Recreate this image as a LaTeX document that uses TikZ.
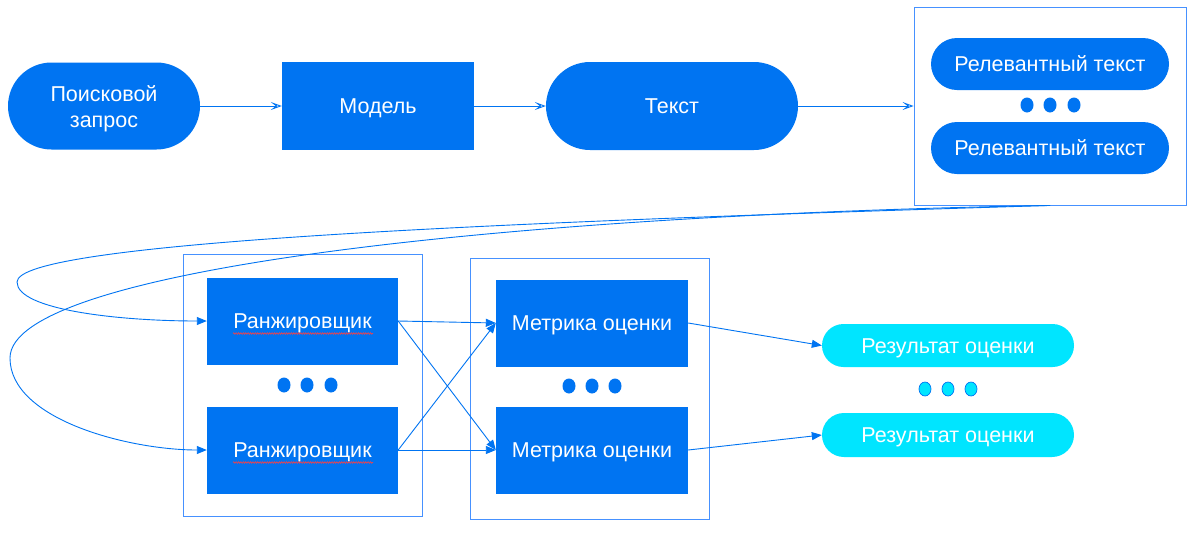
\documentclass[tikz,border=0pt]{standalone}
\usepackage{fontspec}
\setmainfont{Liberation Sans}
\usetikzlibrary{arrows.meta,decorations.pathmorphing}
\definecolor{mblue}{RGB}{0,116,242}
\definecolor{mcyan}{RGB}{0,229,255}
\definecolor{lblue}{RGB}{70,145,255}
\begin{document}
\begin{tikzpicture}[x=1pt,y=-1pt,
  txt/.style={font=\fontsize{21.5}{26}\selectfont, inner sep=0pt, text height=15.5pt, text depth=0pt},
  bbox/.style={txt, fill=mblue, text=white, draw=none},
  cbox/.style={txt, fill=mcyan, text=white, draw=none},
  frame/.style={draw=lblue, line width=0.9pt, fill=none, inner sep=0pt},
  conn/.style={draw=mblue, line width=0.9pt},
  toparr/.style={conn, -{Stealth[length=11pt,width=8pt,inset=5pt,open]}},
  arr/.style={conn, -{Triangle[length=10pt,width=8pt]}},
  wavy/.style={draw=red!75, line width=0.6pt, decorate, decoration={snake, amplitude=0.8pt, segment length=2.4pt}}
]
\useasboundingbox (0,0) rectangle (1199,547);
\fill[white] (0,0) rectangle (1199,547);

% top row
\node[bbox, minimum width=192pt, minimum height=87pt, rounded corners=43.5pt, text height=, text depth=] (q) at (104,106)
  {\raisebox{-3pt}[\height][\depth]{\begin{tabular}{@{}c@{}}Поисковой\\запрос\end{tabular}}};
\node[bbox, minimum width=192pt, minimum height=88pt] (m) at (378,106) {Модель};
\node[bbox, minimum width=252pt, minimum height=88pt, rounded corners=44pt] (t) at (672,106) {Текст};
\node[frame, minimum width=272pt, minimum height=198pt] (rb) at (1050,106) {};
\node[bbox, minimum width=238pt, minimum height=52pt, rounded corners=26pt] (r1) at (1050,64) {Релевантный текст};
\node[bbox, minimum width=238pt, minimum height=52pt, rounded corners=26pt] (r2) at (1050,148) {Релевантный текст};
\foreach \x in {1027,1050,1074} \fill[mblue] (\x,105) ellipse [x radius=6.5pt, y radius=7.5pt];

\draw[toparr] (q.east) -- (m.west);
\draw[toparr] (m.east) -- (t.west);
\draw[toparr] (t.east) -- (rb.west);

% bottom groups
\node[frame, minimum width=239pt, minimum height=262pt] (g1) at (302.5,385) {};
\node[frame, minimum width=239pt, minimum height=261pt] (g2) at (589.5,388.5) {};

\node[bbox, minimum width=191pt, minimum height=87pt] (k1) at (302.5,321) {Ранжировщик};
\node[bbox, minimum width=191pt, minimum height=87pt] (k2) at (302.5,450) {Ранжировщик};
\draw[wavy] (233,333.5) -- (373,333.5);
\draw[wavy] (233,462.5) -- (373,462.5);
\foreach \x in {284,307,331} \fill[mblue] (\x,385) ellipse [x radius=6.5pt, y radius=7.5pt];

\node[bbox, minimum width=192pt, minimum height=87pt] (m1) at (592,323) {Метрика оценки};
\node[bbox, minimum width=192pt, minimum height=87pt] (m2) at (592,450) {Метрика оценки};
\foreach \x in {569,592,615} \fill[mblue] (\x,386) ellipse [x radius=6.5pt, y radius=7.5pt];

\node[cbox, minimum width=252pt, minimum height=43pt, rounded corners=21.5pt] (e1) at (948,345.5) {Результат оценки};
\node[cbox, minimum width=252pt, minimum height=44pt, rounded corners=22pt] (e2) at (948,435) {Результат оценки};
\foreach \x in {925,948,971} \filldraw[fill=mcyan, draw=mblue, line width=0.7pt] (\x,389) ellipse [x radius=6pt, y radius=7pt];

% curves from the relevant texts box
\draw[arr] (rb.south) .. controls (500,222) and (17,242) .. (17,282) .. controls (17,310) and (120,321) .. (k1.west);
\draw[arr] (rb.south) .. controls (500,215) and (10,270) .. (10,358) .. controls (10,420) and (130,450) .. (k2.west);

\draw[arr] (k1.east) -- (m1.west);
\draw[arr] (k1.east) -- (m2.west);
\draw[arr] (k2.east) -- (m1.west);
\draw[arr] (k2.east) -- (m2.west);
\draw[arr] (m1.east) -- (e1.west);
\draw[arr] (m2.east) -- (e2.west);
\end{tikzpicture}
\end{document}
